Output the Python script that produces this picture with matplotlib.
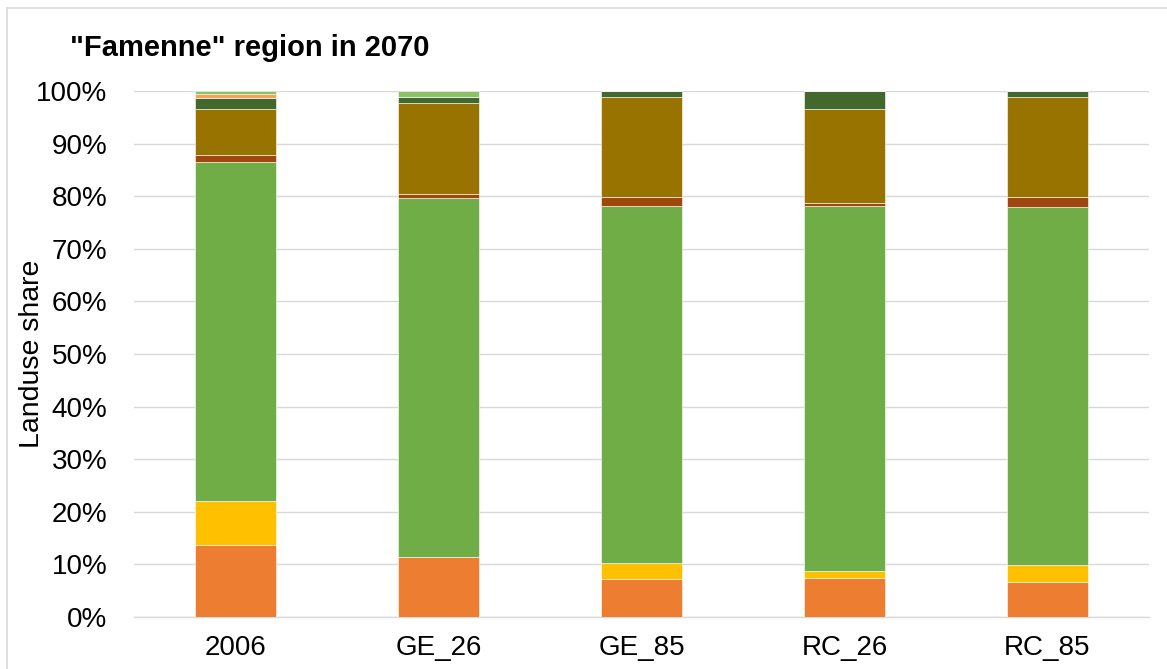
import matplotlib
matplotlib.use('Agg')
import matplotlib.pyplot as plt
import numpy as np

plt.rcParams['font.family'] = ['Liberation Sans', 'DejaVu Sans']

# categories and landuse shares (%), stacked bottom to top
scenarios = ['2006', 'GE_26', 'GE_85', 'RC_26', 'RC_85']
orange = [13.7, 11.4, 7.3, 7.5, 6.7]
yellow = [8.3, 0.0, 3.0, 1.2, 3.2]
green = [64.5, 68.3, 67.8, 69.4, 68.1]
brown = [1.3, 0.7, 1.8, 0.7, 1.8]
olive = [8.7, 17.4, 19.0, 17.8, 19.1]
darkgreen = [2.2, 1.1, 1.1, 3.4, 1.1]
lightorange = [0.7, 0.0, 0.0, 0.0, 0.0]
lightgreen = [0.6, 1.1, 0.0, 0.0, 0.0]

series = [orange, yellow, green, brown, olive, darkgreen, lightorange, lightgreen]
colors = ['#ED7D31', '#FFC000', '#70AD47', '#9E480E', '#997300', '#43682B', '#F4A15A', '#8CC168']

fig = plt.figure(figsize=(11.67, 6.69), dpi=100)
ax = fig.add_axes([134 / 1167, 1 - 617 / 669, (1149 - 134) / 1167, (617 - 91) / 669])

x = np.arange(len(scenarios))
bottom = np.zeros(len(scenarios))
for vals, c in zip(series, colors):
    vals = np.array(vals)
    ax.bar(x, vals, width=0.4, bottom=bottom, color=c, edgecolor='white', linewidth=0.4, zorder=3)
    bottom += vals

ax.set_xlim(-0.5, len(scenarios) - 0.5)
ax.set_ylim(0, 100)
ax.set_yticks(np.arange(0, 101, 10))
ax.set_yticklabels(['{0}%'.format(v) for v in range(0, 101, 10)])
ax.set_xticks(x)
ax.set_xticklabels(scenarios)
ax.tick_params(axis='both', labelsize=20, length=0, colors='#000000')
ax.tick_params(axis='y', pad=19)
ax.tick_params(axis='x', pad=13)
ax.grid(axis='y', color='#D9D9D9', linewidth=1.0, zorder=0)
for s in ['top', 'right', 'left']:
    ax.spines[s].set_visible(False)
ax.spines['bottom'].set_color('#D9D9D9')
ax.spines['bottom'].set_linewidth(1.0)

# axis label and title placed in figure coords
fig.text(32 / 1167, 1 - 354 / 669, 'Landuse share', fontsize=20.5, rotation=90, ha='center', va='center')
fig.text(70 / 1167, 1 - 48 / 669, '"Famenne" region in 2070', fontsize=21, fontweight='bold', va='center')

# chart border (cut off at right and bottom like the screenshot)
fig.patches.append(plt.Rectangle((7 / 1167, -0.05), 1.2, 1 - 8 / 669 + 0.05, transform=fig.transFigure,
                                 fill=False, edgecolor='#D9D9D9', linewidth=1.2))

fig.savefig('out.png', dpi=100)
